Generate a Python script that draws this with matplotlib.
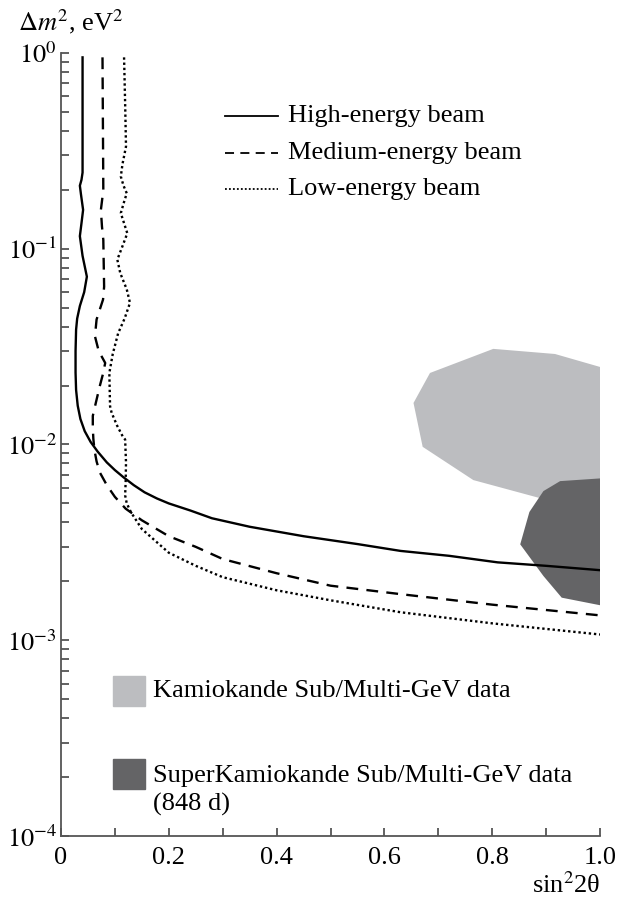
import matplotlib
matplotlib.use("Agg")
import matplotlib.pyplot as plt
from matplotlib.ticker import FixedLocator, LogLocator, NullFormatter

plt.rcParams['font.family'] = ['Liberation Serif', 'DejaVu Serif']
plt.rcParams['mathtext.fontset'] = 'stix'

# ---- data ----
high_x = [0.040, 0.040, 0.038, 0.035, 0.037, 0.041, 0.038, 0.035, 0.040, 0.048, 0.043, 0.035,
          0.030, 0.028, 0.027, 0.027, 0.028, 0.031, 0.036, 0.044, 0.055, 0.068, 0.085, 0.100,
          0.116, 0.135, 0.155, 0.178, 0.20, 0.24, 0.28, 0.35, 0.45, 0.55, 0.63, 0.72, 0.81,
          0.90, 1.0]
high_y = [0.95, 0.245, 0.225, 0.21, 0.19, 0.158, 0.135, 0.116, 0.092, 0.072, 0.060, 0.051,
          0.044, 0.0386, 0.030, 0.0233, 0.019, 0.0158, 0.0135, 0.0117, 0.0103, 0.0092, 0.0081,
          0.0074, 0.0068, 0.0062, 0.0057, 0.0053, 0.0050, 0.0046, 0.0042, 0.0038, 0.0034,
          0.0031, 0.00286, 0.0027, 0.0025, 0.0024, 0.00228]

med_x = [0.077, 0.0785, 0.076, 0.074, 0.076, 0.0785, 0.080, 0.078, 0.071, 0.066, 0.063,
         0.070, 0.082, 0.078, 0.072, 0.065, 0.059, 0.059, 0.060, 0.062, 0.066, 0.072, 0.085,
         0.100, 0.120, 0.15, 0.20, 0.25, 0.30, 0.40, 0.50, 0.63, 0.80, 1.0]
med_y = [0.95, 0.2, 0.175, 0.158, 0.13, 0.111, 0.064, 0.055, 0.048, 0.0435, 0.0357,
         0.030, 0.0261, 0.023, 0.0199, 0.0165, 0.014, 0.0122, 0.0107, 0.0094, 0.0082, 0.0072,
         0.0062, 0.0054, 0.0047, 0.0041, 0.0034, 0.0030, 0.0026, 0.0022, 0.0019, 0.00172,
         0.00152, 0.00134]

low_x = [0.117, 0.119, 0.1206, 0.114, 0.111, 0.116, 0.122, 0.116, 0.111, 0.117, 0.123,
         0.114, 0.1045, 0.110, 0.122, 0.128, 0.118, 0.106, 0.096, 0.0897, 0.091, 0.094,
         0.104, 0.1145, 0.119, 0.1206, 0.120, 0.119, 0.122, 0.13, 0.15, 0.20, 0.25, 0.30,
         0.40, 0.50, 0.63, 0.80, 1.0]
low_y = [0.95, 0.55, 0.333, 0.27, 0.234, 0.21, 0.192, 0.17, 0.152, 0.135, 0.12,
         0.103, 0.088, 0.075, 0.062, 0.0529, 0.044, 0.037, 0.029, 0.0232, 0.0157, 0.0145,
         0.0125, 0.011, 0.0106, 0.0081, 0.0065, 0.0055, 0.0050, 0.0045, 0.0037, 0.0028,
         0.0024, 0.0021, 0.0018, 0.0016, 0.00139, 0.00122, 0.00107]

kam_x = [0.802, 0.9165, 1.0, 1.0, 0.93, 0.8856, 0.765, 0.671, 0.654, 0.6846]
kam_y = [0.0308, 0.029, 0.0249, 0.005, 0.005, 0.00535, 0.00658, 0.00973, 0.0163, 0.0232]

skam_x = [0.926, 1.0, 1.0, 0.929, 0.895, 0.852, 0.869, 0.895]
skam_y = [0.0065, 0.00671, 0.00151, 0.00165, 0.00213, 0.00309, 0.00452, 0.00578]

x_ticks = [0.0, 0.2, 0.4, 0.6, 0.8, 1.0]
x_tick_labels = ['0', '0.2', '0.4', '0.6', '0.8', '1.0']
y_ticks = [1e-4, 1e-3, 1e-2, 1e-1, 1e0]
y_tick_labels = [r'$10^{-4}$', r'$10^{-3}$', r'$10^{-2}$', r'$10^{-1}$', r'$10^{0}$']

series_labels = ['High-energy beam', 'Medium-energy beam', 'Low-energy beam']
region_labels = ['Kamiokande Sub/Multi-GeV data', 'SuperKamiokande Sub/Multi-GeV data', '(848 d)']

light = '#bcbdc0'
dark = '#646466'
axc = '#555555'
fs = 19

fig = plt.figure(figsize=(6.19, 8.97), dpi=100)
ax = fig.add_axes([61/619, 1-836/897, (600-61)/619, (836-53)/897])
ax.set_yscale('log')
ax.set_xlim(0, 1.0)
ax.set_ylim(1e-4, 1e0)

ax.fill(kam_x, kam_y, color=light, lw=0, zorder=1)
ax.fill(skam_x, skam_y, color=dark, lw=0, zorder=2)

ax.plot(high_x, high_y, color='black', lw=1.7, ls='-', zorder=3, solid_joinstyle='round')
ax.plot(med_x, med_y, color='black', lw=1.7, ls=(0, (5, 3.5)), zorder=3)
ax.plot(low_x, low_y, color='black', lw=1.7, ls=(0, (1, 1.2)), zorder=3)

for s in ['top', 'right']:
    ax.spines[s].set_visible(False)
for s in ['left', 'bottom']:
    ax.spines[s].set_color(axc)
    ax.spines[s].set_linewidth(1.3)

ax.xaxis.set_major_locator(FixedLocator(x_ticks))
ax.set_xticklabels(x_tick_labels)
ax.xaxis.set_minor_locator(FixedLocator([0.1, 0.3, 0.5, 0.7, 0.9]))
ax.yaxis.set_major_locator(FixedLocator(y_ticks))
ax.set_yticklabels(y_tick_labels)
ax.yaxis.set_minor_locator(LogLocator(base=10, subs=range(2, 10)))
ax.yaxis.set_minor_formatter(NullFormatter())
ax.tick_params(axis='both', which='both', direction='in', length=6, width=1.3,
               color=axc, labelsize=fs)
ax.tick_params(axis='x', pad=8)
ax.tick_params(axis='y', pad=3)

# legend for lines
ly = [116, 152.7, 189.3]
styles = ['-', (0, (5, 3.5)), (0, (1, 1.2))]
for lab, yy, st in zip(series_labels, ly, styles):
    yf = 1 - yy/897
    fig.add_artist(plt.Line2D([225/619, 278/619], [yf, yf], color='black', lw=1.3, ls=st))
    fig.text(288/619, yf, lab, fontsize=fs, va='center', ha='left')

# legend for regions
fig.patches.append(matplotlib.patches.Rectangle((113/619, 1-706/897), 32/619, 30/897,
                                                 color=light, transform=fig.transFigure))
fig.text(153/619, 1-691/897, region_labels[0], fontsize=fs, va='center', ha='left')
fig.patches.append(matplotlib.patches.Rectangle((113/619, 1-789/897), 32/619, 30/897,
                                                 color=dark, transform=fig.transFigure))
fig.text(153/619, 1-776/897, region_labels[1], fontsize=fs, va='center', ha='left')
fig.text(153/619, 1-804/897, region_labels[2], fontsize=fs, va='center', ha='left')

fig.text(18/619, 1-22/897, r'$\Delta m^2$, eV$^2$', fontsize=fs, va='center', ha='left')
fig.text(600/619, 1-885/897, 'sin$^2$2θ', fontsize=fs, va='center', ha='right')

fig.savefig('out.png', dpi=100)
